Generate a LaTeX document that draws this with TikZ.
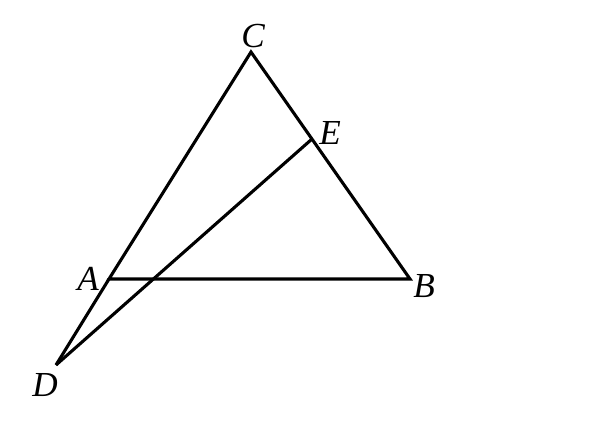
\documentclass[tikz,border=0pt]{standalone}
\usepackage{fontspec}
\setmainfont{Liberation Serif}
\begin{document}
\begin{tikzpicture}[x=0.025cm, y=-0.025cm,
	edge/.style={line width=2.2pt},
	lbl/.style={inner sep=0pt, font=\fontsize{25}{29}\selectfont\itshape}]
				\useasboundingbox (0,0) rectangle (600,440);
				\coordinate (C) at (251,52);
				\coordinate (A) at (109,279);
				\coordinate (B) at (410,279);
				\coordinate (E) at (312,139);
				\coordinate (D) at (56,365);
				\draw [edge] (A) -- (B) -- (C) -- cycle;
				\draw [edge] (A) -- (D);
				\draw [edge] (D) -- (E);
				\node [lbl] (lC) at (253,36) {C};
				\node [lbl] (lE) at (330,133) {E};
				\node [lbl] (lA) at (88,279) {A};
				\node [lbl] (lB) at (424,286) {B};
				\node [lbl] (lD) at (45,385) {D};
				\end{tikzpicture}
\end{document}
